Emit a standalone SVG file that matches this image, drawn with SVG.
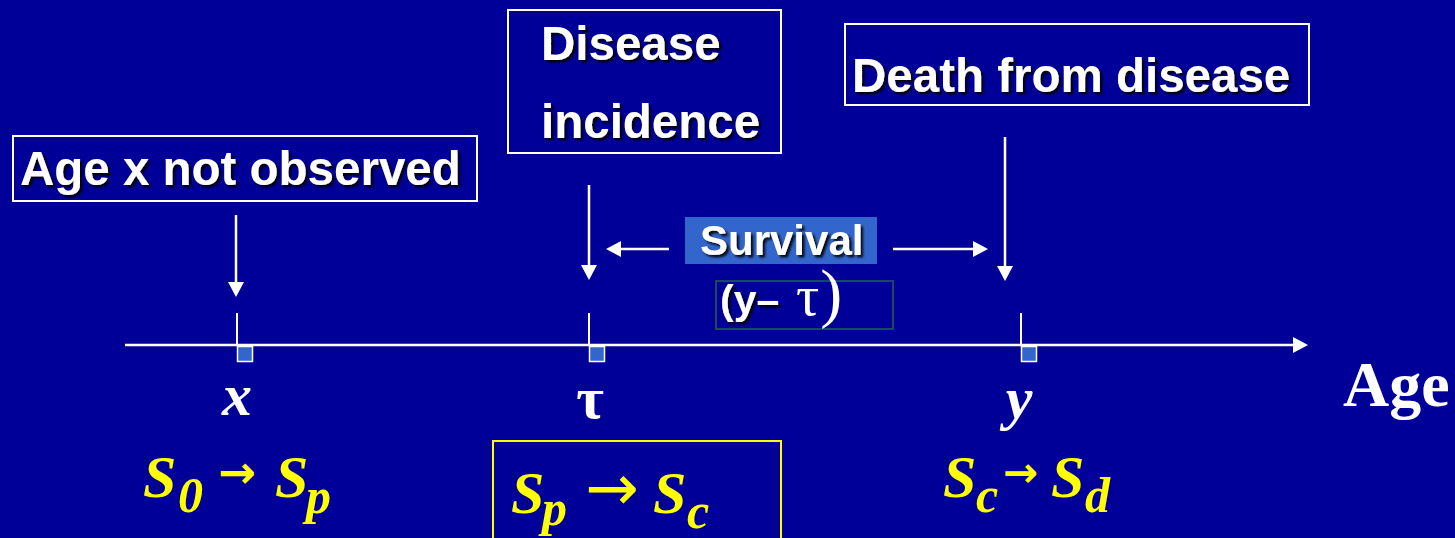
<svg xmlns="http://www.w3.org/2000/svg" width="1455" height="538" viewBox="0 0 1455 538">
  <defs>
    <marker id="ah" viewBox="0 0 15 16" markerWidth="15" markerHeight="16" refX="3" refY="8" orient="auto" markerUnits="userSpaceOnUse">
      <path d="M0,0 L15,8 L0,16 z" fill="#ffffff"/>
    </marker>
    <filter id="shadow" x="-5%" y="-20%" width="110%" height="140%">
      <feDropShadow dx="2.5" dy="2.5" stdDeviation="0.8" flood-color="#000000" flood-opacity="0.9"/>
    </filter>
    <style>
      .box { fill: none; stroke: #ffffff; stroke-width: 2; }
      .lbl { font-family: "Liberation Sans", Arial, sans-serif; font-weight: bold; font-size: 47.5px; fill: #ffffff; filter: url(#shadow); }
      .wire { stroke: #ffffff; stroke-width: 2.5; fill: none; }
      .tick { stroke: #ffffff; stroke-width: 2; }
      .mark { fill: #3366cc; stroke: #ffffff; stroke-width: 1.5; }
      .axis { font-family: "Liberation Serif", "Times New Roman", serif; font-weight: bold; fill: #ffffff; }
      .formula { font-family: "Liberation Serif", "Times New Roman", serif; font-weight: bold; font-style: italic; fill: #ffff00; font-size: 60px; }
      .sub { font-size: 50px; }
      .to { font-family: "DejaVu Sans", sans-serif; font-style: normal; font-weight: bold; }
    </style>
  </defs>

  <rect width="1455" height="538" fill="#000099"/>

  <!-- event boxes -->
  <g id="node-not-observed">
    <rect class="box" x="13" y="136" width="464" height="65"/>
    <text class="lbl" x="20" y="185">Age x not observed</text>
  </g>
  <g id="node-incidence">
    <rect class="box" x="508" y="10" width="273" height="143"/>
    <text class="lbl" x="541" y="60">Disease</text>
    <text class="lbl" x="541" y="138">incidence</text>
  </g>
  <g id="node-death">
    <rect class="box" x="845" y="24" width="464" height="81"/>
    <text class="lbl" x="852" y="92">Death from disease</text>
  </g>
  <g id="node-survival">
    <rect x="685" y="217" width="192" height="47" fill="#3366cc"/>
    <text class="lbl" x="700" y="255" style="font-size:42px">Survival</text>
  </g>
  <g id="node-interval">
    <rect x="716" y="281" width="177" height="48" fill="none" stroke="#1a4a5a" stroke-width="2"/>
    <text x="720" y="314" style="font-family:'Liberation Sans',Arial,sans-serif;font-weight:bold;font-size:41px;fill:#ffffff;filter:url(#shadow)">(y–</text>
    <text x="796" y="315" style="font-family:'Liberation Serif','Times New Roman',serif;font-size:58px;fill:#ffffff">τ<tspan style="font-size:66px" dx="1">)</tspan></text>
  </g>

  <!-- connectors: event arrows, survival span, age axis -->
  <g id="connectors">
    <line class="wire" x1="236" y1="215" x2="236" y2="285" marker-end="url(#ah)"/>
    <line class="wire" x1="589" y1="185" x2="589" y2="268" marker-end="url(#ah)"/>
    <line class="wire" x1="1005" y1="137" x2="1005" y2="269" marker-end="url(#ah)"/>
    <line class="wire" x1="669" y1="249" x2="618" y2="249" marker-end="url(#ah)"/>
    <line class="wire" x1="893" y1="249" x2="976" y2="249" marker-end="url(#ah)"/>
    <line class="wire" x1="125" y1="345" x2="1296" y2="345" marker-end="url(#ah)"/>
  </g>

  <!-- ticks on the age axis -->
  <g id="ticks">
    <line class="tick" x1="237" y1="313" x2="237" y2="345"/>
    <line class="tick" x1="589" y1="313" x2="589" y2="345"/>
    <line class="tick" x1="1021" y1="313" x2="1021" y2="345"/>
    <rect class="mark" x="237.5" y="346.5" width="15" height="15"/>
    <rect class="mark" x="589.5" y="346.5" width="15" height="15"/>
    <rect class="mark" x="1021.5" y="346.5" width="15" height="15"/>
  </g>

  <!-- axis labels -->
  <g id="axis-labels">
    <text class="axis" x="237" y="415" text-anchor="middle" style="font-style:italic;font-size:60px">x</text>
    <text class="axis" x="590" y="418" text-anchor="middle" style="font-size:60px">τ</text>
    <text class="axis" x="1019" y="418" text-anchor="middle" style="font-style:italic;font-size:60px">y</text>
    <text class="axis" x="1343" y="406" style="font-size:64px">Age</text>
  </g>

  <!-- state transitions -->
  <g id="node-state-x">
    <text class="formula"><tspan x="143" y="497">S</tspan><tspan class="sub" x="178" y="512">0</tspan><tspan class="to" style="font-size:45px" x="218" y="488">→</tspan><tspan x="275" y="497">S</tspan><tspan class="sub" x="306" y="513">p</tspan></text>
  </g>
  <g id="node-state-tau">
    <rect x="493" y="441" width="288" height="120" fill="none" stroke="#ffff00" stroke-width="2"/>
    <text class="formula"><tspan x="511" y="513">S</tspan><tspan class="sub" x="542" y="525">p</tspan><tspan class="to" style="font-size:64px;font-weight:normal" x="585" y="510">→</tspan><tspan x="653" y="513">S</tspan><tspan class="sub" x="687" y="528">c</tspan></text>
  </g>
  <g id="node-state-y">
    <text class="formula"><tspan x="943" y="497">S</tspan><tspan class="sub" x="976" y="512">c</tspan><tspan class="to" style="font-size:42px" x="1003" y="487">→</tspan><tspan x="1051" y="497">S</tspan><tspan class="sub" x="1085" y="512">d</tspan></text>
  </g>
</svg>
